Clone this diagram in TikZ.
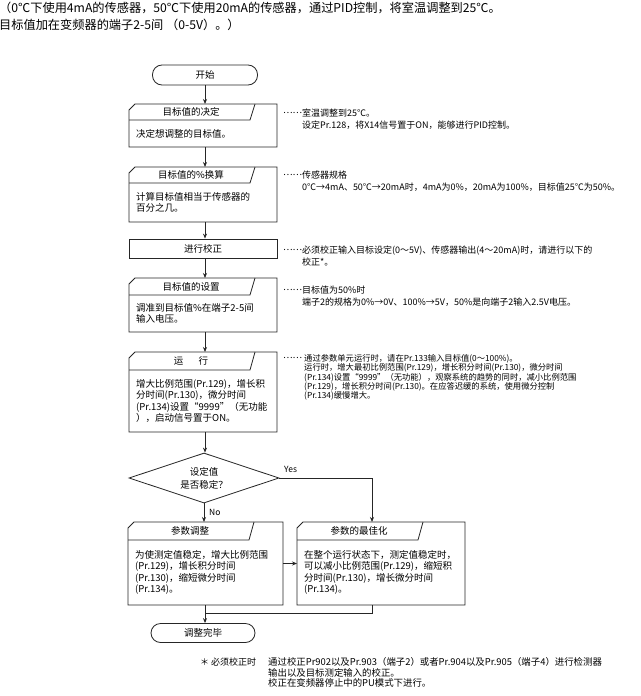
\documentclass[tikz,border=0pt]{standalone}
\usepackage{fontspec}
\setmainfont{Noto Sans CJK SC}
\usetikzlibrary{arrows.meta,calc,shapes.geometric}
\tikzset{
  boxline/.style={draw=black!85, line width=0.8pt, line join=miter},
  boxarea/.style={inner sep=0pt, outer sep=0pt, draw=none},
  txt/.style={inner sep=0pt, font={\fontsize{9.5}{11.5}\selectfont}},
  ann/.style={inner sep=0pt, align=left, anchor=north west, font={\fontsize{9}{12}\selectfont}},
  annsmall/.style={inner sep=0pt, align=left, anchor=north west, font={\fontsize{8.3}{9.4}\selectfont}},
  term/.style={draw=black!85, line width=0.8pt, rounded corners=9.5pt, inner sep=0pt, font={\fontsize{9.5}{11.5}\selectfont}},
  plainbox/.style={draw=black!85, line width=0.8pt, inner sep=0pt, font={\fontsize{9.5}{11.5}\selectfont}},
  arr/.style={draw=black!85, line width=0.8pt, -{Stealth[length=5pt,width=4pt]}},
  conn/.style={draw=black!85, line width=0.8pt},
  lbl/.style={inner sep=0pt, font={\fontsize{8.5}{10}\selectfont}}
}
\newcommand{\tabbox}[8]{%
  \node[boxarea, minimum width={(#4-(#2))*1pt}, minimum height={(#5-(#3))*1pt}, anchor=north west] (#1) at (#2,#3) {};
  \draw[boxline] (#2,#3+6) -- (#2+6,#3) -- (#4,#3) -- (#4,#5) -- (#2,#5) -- cycle;
  \draw[boxline] (#2,#6) -- (#2+121,#6) -- (#2+126,#3);
  \node[txt] (#1-t) at (#2+62,{(#3+#6)/2}) {#7};
  \node[txt, anchor=west, align=left] (#1-b) at (#2+7,{(#6+#5)/2}) {#8};
}
\begin{document}
\begin{tikzpicture}[x=1pt,y=-1pt]
\useasboundingbox[fill=white] (0,0) rectangle (640,696);

% heading
\node[inner sep=0pt, align=left, anchor=north west, font={\fontsize{12.2}{16.5}\selectfont}] (head) at (-1,2)
  {（0℃下使用4mA的传感器，50℃下使用20mA的传感器，通过PID控制，将室温调整到25℃。\\目标值加在变频器的端子2-5间 （0-5V）。）};

\coordinate (col) at (205,0);
\coordinate (ycol) at (372,0);

% start
\node[term, minimum width=105pt, minimum height=20pt] (start) at (205,75) {开始};

% boxes
\tabbox{b1}{129}{104}{277}{147}{120}{目标值的决定}{决定想调整的目标值。}
\tabbox{b2}{129}{167}{277}{222}{183}{目标值的\%换算}{计算目标值相当于传感器的\\百分之几。}
\node[plainbox, minimum width=148pt, minimum height=19pt] (b3) at (203,248.5) {进行校正};
\tabbox{b4}{129}{278}{277}{332}{295}{目标值的设置}{调准到目标值\%在端子2-5间\\输入电压。}
\tabbox{b5}{129}{352}{277}{432}{370}{运\hspace{1.6em}行}{增大比例范围(Pr.129)，增长积\\分时间(Pr.130)，微分时间\\(Pr.134)设置“9999”（无功能\\），启动信号置于ON。}

\node[diamond, draw=black!85, line width=0.8pt, aspect=3, minimum width=150pt, minimum height=50pt, inner sep=0pt, align=center, font={\fontsize{9.5}{13}\selectfont}] (dia) at (204,478) {设定值\\是否稳定？};

\tabbox{b6}{128}{522}{283}{605}{540}{参数调整}{为使测定值稳定，增大比例范围\\(Pr.129)，增长积分时间\\(Pr.130)，缩短微分时间\\(Pr.134)。}
\tabbox{b7}{297}{522}{465}{605}{540}{参数的最佳化}{在整个运行状态下，测定值稳定时，\\可以减小比例范围(Pr.129)，缩短积\\分时间(Pr.130)，增长微分时间\\(Pr.134)。}

\node[term, minimum width=104pt, minimum height=19pt] (endt) at (203,633) {调整完毕};

% connectors
\draw[arr] (start.south) -- (b1.north -| start.south);
\draw[arr] (b1.south -| col) -- (b2.north -| col);
\draw[arr] (b2.south -| col) -- (b3.north -| col);
\draw[arr] (b3.south -| col) -- (b4.north -| col);
\draw[arr] (b4.south -| col) -- (b5.north -| col);
\draw[arr] (b5.south -| col) -- (dia.north -| col);
\draw[arr] (dia.south) -- (dia.south |- b6.north);
\draw[arr] (dia.east) -| (b7.north -| ycol);
\draw[arr] (b6.east) -- (b7.west);
\coordinate (mrg) at (205,613);
\draw[conn] (b7.south -| ycol) |- (mrg);
\draw[arr] (b6.south -| col) -- (endt.north -| col);

\node[lbl, anchor=west] (yes) at (284,469) {Yes};
\node[lbl, anchor=west] (no) at (209,512) {No};

% annotations
\node[ann, anchor=west] (d1) at (283,113) {……};
\node[ann] (a1) at (302,108.5) {室温调整到25℃。\\设定Pr.128，将X14信号置于ON，能够进行PID控制。};
\node[ann, anchor=west] (d2) at (283,175) {……};
\node[ann] (a2) at (302,170.5) {传感器规格\\0℃→4mA、50℃→20mA时，4mA为0\%，20mA为100\%，目标值25℃为50\%。};
\node[ann, anchor=west] (d3) at (283,250) {……};
\node[ann] (a3) at (302,245.5) {必须校正输入目标设定(0～5V)、传感器输出(4～20mA)时，请进行以下的\\校正*。};
\node[ann, anchor=west] (d4) at (283,290) {……};
\node[ann] (a4) at (302,285.5) {目标值为50\%时\\端子2的规格为0\%→0V、100\%→5V，50\%是向端子2输入2.5V电压。};
\node[ann, anchor=west] (d5) at (283,358) {……};
\node[annsmall] (a5) at (304,354) {通过参数单元运行时，请在Pr.133输入目标值(0～100\%)。\\运行时，增大最初比例范围(Pr.129)，增长积分时间(Pr.130)，微分时间\\(Pr.134)设置“9999”（无功能），观察系统的趋势的同时，减小比例范围\\(Pr.129)，增长积分时间(Pr.130)。在应答迟缓的系统，使用微分控制\\(Pr.134)缓慢增大。};

% footnote
\node[ann, anchor=west] (fstar) at (200,662) {＊ 必须校正时};
\node[ann, font={\fontsize{9.4}{10.6}\selectfont}] (foot) at (268,657.5) {通过校正Pr902以及Pr.903（端子2）或者Pr.904以及Pr.905（端子4）进行检测器\\输出以及目标测定输入的校正。\\校正在变频器停止中的PU模式下进行。};
\end{tikzpicture}
\end{document}
